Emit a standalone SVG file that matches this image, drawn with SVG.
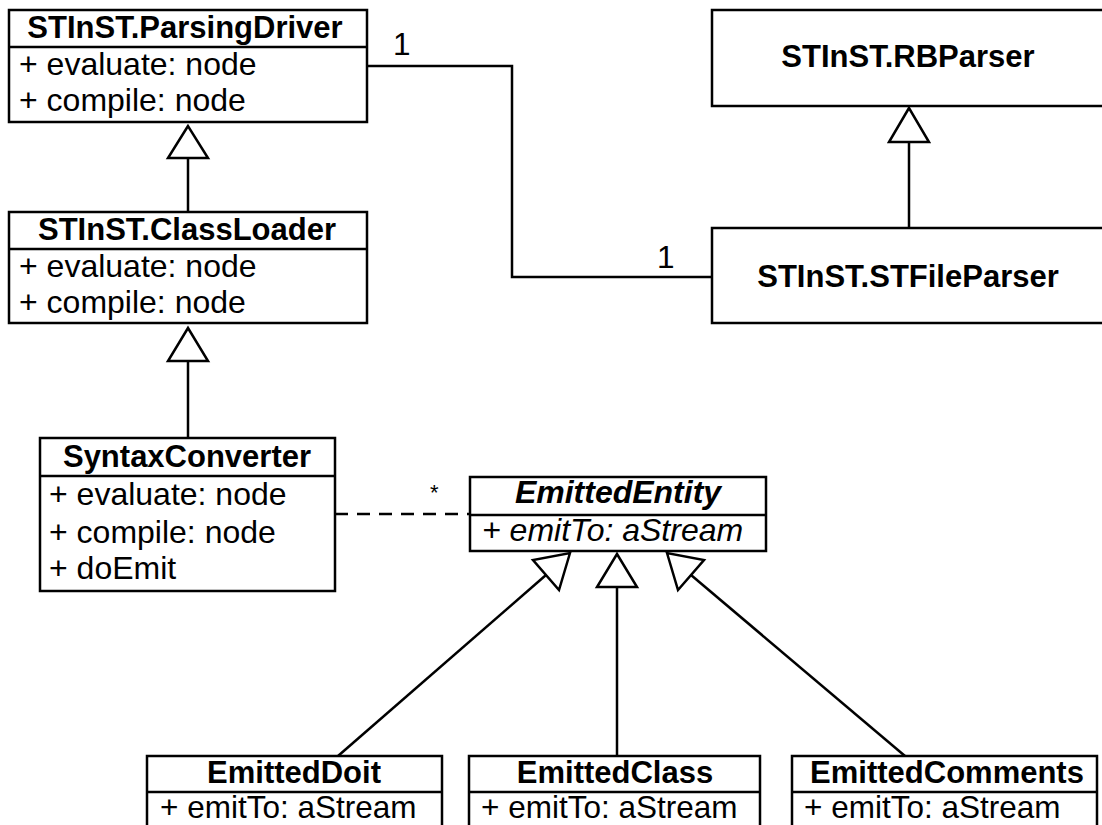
<svg xmlns="http://www.w3.org/2000/svg" width="1102" height="825" viewBox="0 0 1102 825">
<style>
.box{fill:#fff;stroke:#000;stroke-width:2.5}
.ln{fill:none;stroke:#000;stroke-width:2.5}
.tri{fill:#fff;stroke:#000;stroke-width:2.5;stroke-linejoin:miter}
.t{font-family:"Liberation Sans",Arial,sans-serif;font-size:31.5px;fill:#000}
.b{font-weight:bold;text-anchor:middle;font-size:31px}
.i{font-style:italic}
.r{font-size:32px}
</style>
<rect width="1102" height="825" fill="#fff"/>
<g id="connectors">
<polyline class="ln" points="367,66 512,66 512,277 712,277"/>
<line class="ln" x1="188" y1="158" x2="188" y2="212"/>
<polygon class="tri" points="188,126 168,158 208,158"/>
<line class="ln" x1="188" y1="361" x2="188" y2="438"/>
<polygon class="tri" points="188,328 168,361 208,361"/>
<line class="ln" x1="909" y1="142" x2="909" y2="228"/>
<polygon class="tri" points="909,108 889,142 929,142"/>
<line class="ln" x1="335" y1="514" x2="470" y2="514" stroke-dasharray="13,9"/>
<line class="ln" x1="617" y1="587" x2="617" y2="756"/>
<polygon class="tri" points="617,554 597,587 637,587"/>
<line class="ln" x1="546" y1="575" x2="338" y2="756"/>
<polygon class="tri" points="570,553 559,590 533,560"/>
<line class="ln" x1="691" y1="575" x2="905" y2="756"/>
<polygon class="tri" points="667,553 678,590 704,560"/>
<text class="t" x="393" y="55">1</text>
<text class="t" x="657" y="268">1</text>
<text class="t" x="430" y="500" style="font-size:22px">*</text>
</g>
<g id="ParsingDriver">
<rect class="box" x="9" y="10" width="358" height="112"/>
<line class="ln" x1="9" y1="47" x2="367" y2="47"/>
<text class="t b" x="185" y="38">STInST.ParsingDriver</text>
<text class="t r" x="19" y="75">+ evaluate: node</text>
<text class="t r" x="19" y="111">+ compile: node</text>
</g>
<g id="ClassLoader">
<rect class="box" x="9" y="212" width="358" height="111"/>
<line class="ln" x1="9" y1="249" x2="367" y2="249"/>
<text class="t b" x="187" y="240">STInST.ClassLoader</text>
<text class="t r" x="19" y="277">+ evaluate: node</text>
<text class="t r" x="19" y="313">+ compile: node</text>
</g>
<g id="SyntaxConverter">
<rect class="box" x="40" y="438" width="295" height="153"/>
<line class="ln" x1="40" y1="476" x2="335" y2="476"/>
<text class="t b" x="187" y="467">SyntaxConverter</text>
<text class="t r" x="49" y="505">+ evaluate: node</text>
<text class="t r" x="49" y="543">+ compile: node</text>
<text class="t r" x="49" y="579">+ doEmit</text>
</g>
<g id="RBParser">
<rect class="box" x="712" y="10" width="394" height="96"/>
<text class="t b" x="908" y="67">STInST.RBParser</text>
</g>
<g id="STFileParser">
<rect class="box" x="712" y="228" width="394" height="95"/>
<text class="t b" x="908" y="287">STInST.STFileParser</text>
</g>
<g id="EmittedEntity">
<rect class="box" x="470" y="477" width="296" height="74"/>
<line class="ln" x1="470" y1="515" x2="766" y2="515"/>
<text class="t b i" x="618" y="503" style="font-size:32px">EmittedEntity</text>
<text class="t i r" x="482" y="541">+ emitTo: aStream</text>
</g>
<g id="EmittedDoit">
<rect class="box" x="147" y="756" width="295" height="80"/>
<line class="ln" x1="147" y1="792" x2="442" y2="792"/>
<text class="t b" x="294" y="783">EmittedDoit</text>
<text class="t" x="160" y="818">+ emitTo: aStream</text>
</g>
<g id="EmittedClass">
<rect class="box" x="469" y="756" width="291" height="80"/>
<line class="ln" x1="469" y1="792" x2="760" y2="792"/>
<text class="t b" x="615" y="783">EmittedClass</text>
<text class="t" x="481" y="818">+ emitTo: aStream</text>
</g>
<g id="EmittedComments">
<rect class="box" x="792" y="756" width="305" height="80"/>
<line class="ln" x1="792" y1="792" x2="1097" y2="792"/>
<text class="t b" x="947" y="783">EmittedComments</text>
<text class="t" x="804" y="818">+ emitTo: aStream</text>
</g>
</svg>
